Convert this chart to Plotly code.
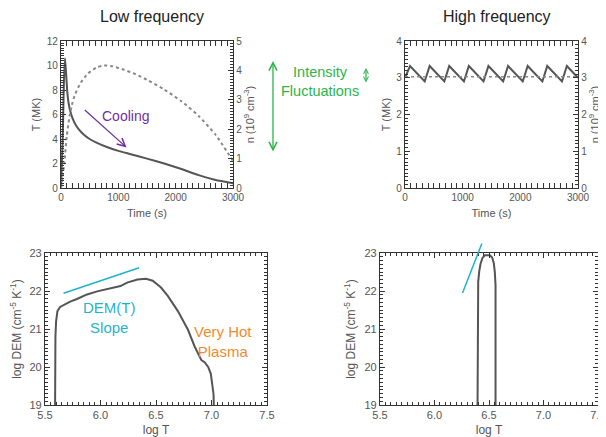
import plotly.graph_objects as go

# Page has an 8px body margin; the figure is sized so it fills the 606x437 window.
OFF = 8
W, H = 606 - OFF, 437 - OFF

panel_titles = ["Low frequency", "High frequency"]

# Low-frequency heating: temperature (MK) and density (1e9 cm^-3) vs time (s)
lf_time_T = [0, 30, 50, 70, 90, 110, 130, 160, 200, 250, 300, 400, 500, 600, 800,
             1000, 1200, 1500, 1800, 2100, 2400, 2700, 3000]
lf_T = [0.0, 4.0, 8.5, 10.6, 9.3, 7.8, 7.0, 6.3, 5.7, 5.2, 4.85, 4.35, 4.0, 3.75, 3.35,
        3.03, 2.78, 2.4, 2.0, 1.55, 1.05, 0.65, 0.38]
lf_time_n = [0, 30, 60, 100, 150, 200, 250, 350, 475, 620, 750, 900, 1100, 1300, 1500,
             1800, 2100, 2400, 2700, 3000]
lf_n = [0.0, 0.4, 0.9, 1.75, 2.45, 2.9, 3.2, 3.6, 3.9, 4.1, 4.17, 4.14, 4.02, 3.87, 3.68,
        3.35, 2.95, 2.45, 1.8, 0.92]

# High-frequency heating
hf_time_T = [0, 87, 342, 427, 682, 767, 1022, 1107, 1362, 1447, 1702, 1787, 2042, 2127,
             2382, 2467, 2722, 2807, 3000]
hf_T = [3.0, 3.32, 2.9, 3.32, 2.9, 3.32, 2.9, 3.32, 2.9, 3.32, 2.9, 3.32, 2.9, 3.32,
        2.9, 3.32, 2.9, 3.32, 3.0]
hf_time_n = [0, 3000]
hf_n = [3.03, 3.03]

# Emission measure distributions
lf_logT = [5.591, 5.591, 5.594, 5.600, 5.612, 5.636, 5.682, 5.727, 5.788, 5.879, 5.970,
           6.090, 6.180, 6.240, 6.333, 6.410, 6.470, 6.545, 6.606, 6.697, 6.788, 6.848,
           6.909, 6.940, 6.970, 6.994, 7.009, 7.018, 7.020, 7.020]
lf_dem = [19.0, 20.27, 20.8, 21.2, 21.47, 21.58, 21.66, 21.72, 21.79, 21.91, 21.99,
          22.06, 22.13, 22.22, 22.30, 22.32, 22.27, 22.09, 21.87, 21.47, 20.98, 20.54,
          20.18, 20.12, 20.0, 19.82, 19.55, 19.29, 19.1, 19.0]
hf_logT = [6.395, 6.395, 6.401, 6.410, 6.422, 6.440, 6.462, 6.508, 6.529, 6.544, 6.553,
           6.560, 6.560, 6.560]
hf_dem = [19.0, 21.89, 22.24, 22.51, 22.71, 22.87, 22.94, 22.94, 22.88, 22.73, 22.51,
          22.16, 21.71, 19.0]

# Slope guide lines
lf_slope_x = [5.667, 6.348]
lf_slope_y = [21.94, 22.61]
hf_slope_x = [6.257, 6.44]
hf_slope_y = [21.95, 23.29]

AX = "#333333"
TXT = "#555555"
LINE = "#555555"
CYAN = "#1fb3cc"
ORANGE = "#f28a2e"
PURPLE = "#7030a0"
GREEN = "#2bb54a"
FONT = "Liberation Sans, Arial, sans-serif"


def fx(px):
    return (px - OFF) / W


def fy(py):
    return 1 - (py - OFF) / H


def px_dom_x(a, b):
    return [fx(a), fx(b)]


def px_dom_y(top, bot):
    return [fy(bot), fy(top)]


def axis(dom, rng, dtick, minor, title, size=10, side=None, anchor=None,
         overlaying=None, mirror="allticks", standoff=6, showtick=True):
    d = dict(
        domain=dom, range=rng, dtick=dtick, tick0=rng[0], showgrid=False,
        zeroline=False, showline=True, linecolor=AX, linewidth=1.3,
        ticks="inside", ticklen=5, tickwidth=1, tickcolor=AX,
        minor=dict(ticks="inside", dtick=minor, ticklen=3, tickwidth=1,
                   tickcolor=AX, showgrid=False),
        mirror=mirror, tickfont=dict(size=size, color=TXT, family=FONT),
        title=dict(text=title, font=dict(size=size + 1, color=TXT, family=FONT),
                   standoff=standoff),
        fixedrange=True, showticklabels=showtick, automargin=False,
    )
    if side:
        d["side"] = side
    if anchor:
        d["anchor"] = anchor
    if overlaying:
        d["overlaying"] = overlaying
    return d


fig = go.Figure()

# Top-left: low frequency
fig.add_trace(go.Scatter(x=lf_time_T, y=lf_T, mode="lines", xaxis="x", yaxis="y",
                         line=dict(color=LINE, width=2, shape="spline", smoothing=0.4)))
fig.add_trace(go.Scatter(x=lf_time_n, y=lf_n, mode="lines", xaxis="x", yaxis="y2",
                         line=dict(color="#888888", width=2, dash="3px,3px",
                                   shape="spline", smoothing=0.6)))
# Top-right: high frequency
fig.add_trace(go.Scatter(x=hf_time_T, y=hf_T, mode="lines", xaxis="x2", yaxis="y3",
                         line=dict(color=LINE, width=2)))
fig.add_trace(go.Scatter(x=hf_time_n, y=hf_n, mode="lines", xaxis="x2", yaxis="y4",
                         line=dict(color="#888888", width=1.5, dash="3px,3px")))
# Bottom-left DEM
fig.add_trace(go.Scatter(x=lf_logT, y=lf_dem, mode="lines", xaxis="x3", yaxis="y5",
                         line=dict(color=LINE, width=2)))
fig.add_trace(go.Scatter(x=lf_slope_x, y=lf_slope_y, mode="lines", xaxis="x3", yaxis="y5",
                         line=dict(color=CYAN, width=1.5)))
# Bottom-right DEM
fig.add_trace(go.Scatter(x=hf_logT, y=hf_dem, mode="lines", xaxis="x4", yaxis="y6",
                         line=dict(color=LINE, width=2)))

tl_x, tl_y = px_dom_x(61, 233), px_dom_y(41, 188)
tr_x, tr_y = px_dom_x(405, 578), px_dom_y(41, 188)
bl_x, bl_y = px_dom_x(45, 267), px_dom_y(253, 405)
br_x, br_y = px_dom_x(380, 598), px_dom_y(253, 405)

n_title = "n (10<sup>9</sup> cm<sup>-3</sup>)"
dem_title = "log DEM (cm<sup>-5</sup> K<sup>-1</sup>)"

fig.update_layout(
    xaxis=axis(tl_x, [0, 3000], 1000, 100, "Time (s)", anchor="y", standoff=7),
    yaxis=axis(tl_y, [0, 12], 2, 0.2, "T (MK)", anchor="x", mirror=False, standoff=3),
    yaxis2=axis(tl_y, [0, 5], 1, 0.1, n_title, side="right", anchor="x",
                overlaying="y", mirror=False, standoff=1),
    xaxis2=axis(tr_x, [0, 3000], 1000, 100, "Time (s)", anchor="y3", standoff=7),
    yaxis3=axis(tr_y, [0, 4], 1, 0.1, "T (MK)", anchor="x2", mirror=False, standoff=3),
    yaxis4=axis(tr_y, [0, 4], 1, 0.1, n_title, side="right", anchor="x2",
                overlaying="y3", mirror=False, standoff=1),
    xaxis3=axis(bl_x, [5.5, 7.5], 0.5, 0.05, "log T", size=11, anchor="y5", standoff=6),
    yaxis5=axis(bl_y, [19, 23], 1, 0.1, dem_title, size=11, anchor="x3"),
    xaxis4=axis(br_x, [5.5, 7.5], 0.5, 0.05, "log T", size=11, anchor="y6", standoff=6),
    yaxis6=axis(br_y, [19, 23], 1, 0.1, dem_title, size=11, anchor="x4"),
)

fig.update_xaxes(tickformat=".1f", selector=dict(anchor="y5"))
fig.update_xaxes(tickformat=".1f", selector=dict(anchor="y6"))

C = dict(xanchor="center", yanchor="middle")
ann = []
# Panel titles
ann.append(dict(text=panel_titles[0], x=fx(152), y=fy(17), xref="paper", yref="paper",
                showarrow=False, font=dict(size=16, color="#222222", family=FONT), **C))
ann.append(dict(text=panel_titles[1], x=fx(497), y=fy(17), xref="paper", yref="paper",
                showarrow=False, font=dict(size=16, color="#222222", family=FONT), **C))
# Cooling arrow
ann.append(dict(x=1143, y=3.31, ax=389, ay=6.48, xref="x", yref="y", axref="x", ayref="y",
                text="", showarrow=True, arrowhead=5, arrowsize=1.2, arrowwidth=1.3,
                arrowcolor=PURPLE))
ann.append(dict(x=1131, y=5.88, xref="x", yref="y", text="Cooling", showarrow=False,
                font=dict(size=14, color=PURPLE, family=FONT), **C))
# DEM labels
ann.append(dict(x=6.077, y=21.29, xref="x3", yref="y5", text="DEM(T)<br>Slope",
                showarrow=False, font=dict(size=15, color=CYAN, family=FONT), **C))
ann.append(dict(x=7.10, y=20.66, xref="x3", yref="y5", text="Very Hot<br>Plasma",
                showarrow=False, font=dict(size=15, color=ORANGE, family=FONT), **C))
# High-frequency slope line (extends above the frame)
ann.append(dict(x=hf_slope_x[0], y=hf_slope_y[0], ax=hf_slope_x[1], ay=hf_slope_y[1],
                xref="x4", yref="y6", axref="x4", ayref="y6", text="", showarrow=True,
                arrowhead=0, arrowwidth=1.5, arrowcolor=CYAN, standoff=0, startstandoff=0))
# Intensity fluctuation arrows
ann.append(dict(x=fx(273), y=fy(61), xref="paper", yref="paper", ax=0, ay=92,
                text="", showarrow=True, arrowhead=5, startarrowhead=5,
                arrowside="end+start", arrowsize=1.2, arrowwidth=1.3, arrowcolor=GREEN))
ann.append(dict(x=fx(366), y=fy(68), xref="paper", yref="paper", ax=0, ay=16,
                text="", showarrow=True, arrowhead=5, startarrowhead=5,
                arrowside="end+start", arrowsize=0.8, arrowwidth=1.2, arrowcolor=GREEN))
ann.append(dict(x=fx(320), y=fy(82), xref="paper", yref="paper",
                text="Intensity<br>Fluctuations", showarrow=False,
                font=dict(size=14.5, color=GREEN, family=FONT), **C))

fig.update_layout(
    annotations=ann,
    width=W, height=H,
    margin=dict(l=0, r=0, t=0, b=0),
    paper_bgcolor="white", plot_bgcolor="white",
    showlegend=False,
    font=dict(family=FONT),
)

fig.write_html("out.html")
